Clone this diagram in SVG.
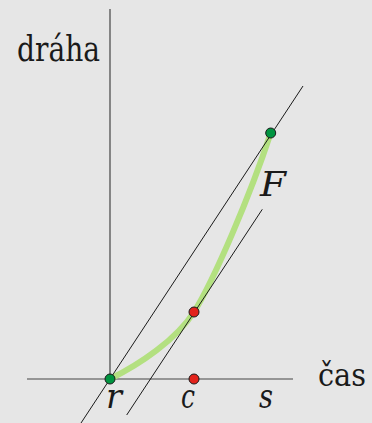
<svg xmlns="http://www.w3.org/2000/svg" width="372" height="423" viewBox="0 0 372 423">
<style>
.axis{stroke:#444;stroke-width:1.2;fill:none}
.thin{stroke:#1a1a1a;stroke-width:1;fill:none}
.curve{stroke:#b3e080;stroke-width:6;fill:none;stroke-linecap:round}
.g{fill:#009440;stroke:#1a1a1a;stroke-width:1}
.r{fill:#e3231b;stroke:#1a1a1a;stroke-width:1}
.lbl{font-family:"DejaVu Serif","Liberation Serif",serif;fill:#1a1a1a}
.it{font-style:italic}
</style>
<rect width="372" height="423" fill="#e6e6e6"/>
<g id="axes">
<line class="axis" x1="110" y1="9" x2="110" y2="379"/>
<line class="axis" x1="27" y1="379" x2="293" y2="379"/>
</g>
<g id="curve">
<path class="curve" d="M110,379 C140,364 176,340 194,312 C214,280 250,196 270.7,133"/>
</g>
<g id="connectors">
<line class="thin" x1="81" y1="423" x2="303" y2="86"/>
<line class="thin" x1="126.7" y1="415" x2="262.3" y2="209.3"/>
</g>
<g id="point-r"><circle class="g" cx="110" cy="379" r="5"/></g>
<g id="point-c"><circle class="r" cx="194" cy="379" r="5"/></g>
<g id="point-tangent"><circle class="r" cx="194" cy="312" r="5"/></g>
<g id="point-F"><circle class="g" cx="270.7" cy="133" r="5"/></g>
<g id="labels">
<text class="lbl" x="17" y="61" font-size="36" textLength="83" lengthAdjust="spacingAndGlyphs">dráha</text>
<text class="lbl" x="318" y="386" font-size="31" textLength="48" lengthAdjust="spacingAndGlyphs">čas</text>
<text class="lbl it" x="106" y="408" font-size="33" textLength="16" lengthAdjust="spacingAndGlyphs">r</text>
<text class="lbl it" x="181" y="408" font-size="33" textLength="14" lengthAdjust="spacingAndGlyphs">c</text>
<text class="lbl it" x="259" y="408" font-size="33" textLength="14" lengthAdjust="spacingAndGlyphs">s</text>
<text class="lbl it" x="260" y="196" font-size="34" textLength="26" lengthAdjust="spacingAndGlyphs">F</text>
</g>
</svg>
